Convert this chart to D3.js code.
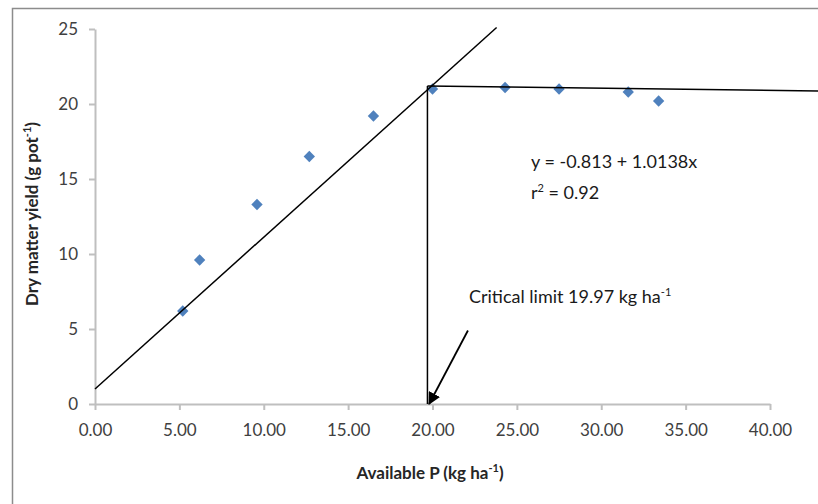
<!DOCTYPE html>
<html lang="en">
  <head>
    <meta charset="UTF-8" />
    <title>Dry matter yield vs available P</title>
    <script src="https://d3js.org/d3.v7.min.js"></script>
    <style>
      body { margin: 0; background: #fff; }
      svg text { font-family: Lato, "Open Sans", sans-serif; }
    </style>
  </head>
  <body>
    <svg></svg>
    <script>
      // data
      let availP = [5.2, 6.2, 9.6, 12.7, 16.5, 20.0, 24.3, 27.5, 31.6, 33.4];
      let yieldG = [6.2, 9.6, 13.3, 16.5, 19.2, 21.0, 21.1, 21.0, 20.8, 20.2];
      let xTicks = [0, 5, 10, 15, 20, 25, 30, 35, 40];
      let yTicks = [0, 5, 10, 15, 20, 25];
      // fitted lines (start/end points)
      let riseLine = [[0, 1.0], [23.8, 25.1]];
      let plateauLine = [[19.7, 21.2], [43, 20.87]];
      let criticalX = 19.7;
      let arrowFrom = [22.1, 4.9];

      let width = 818,
        height = 504;

      let svg = d3.select("svg").attr("width", width).attr("height", height);

      // chart area frame
      svg
        .append("rect")
        .attr("x", 12.5)
        .attr("y", 8.5)
        .attr("width", 830)
        .attr("height", 520)
        .attr("fill", "#fff")
        .attr("stroke", "#8c8c8c")
        .attr("stroke-width", 1.5);

      let x = d3.scaleLinear().domain([0, 40]).range([95, 770]);
      let y = d3.scaleLinear().domain([0, 25]).range([404, 29]);

      // axes
      let xAxis = svg
        .append("g")
        .attr("transform", "translate(0,404)")
        .call(
          d3
            .axisBottom(x)
            .tickValues(xTicks)
            .tickSize(6)
            .tickSizeOuter(0)
            .tickPadding(14)
            .tickFormat(d3.format(".2f"))
        );
      let yAxis = svg
        .append("g")
        .attr("transform", "translate(95,0)")
        .call(
          d3
            .axisLeft(y)
            .tickValues(yTicks)
            .tickSize(6)
            .tickSizeOuter(0)
            .tickPadding(11)
        );
      [xAxis, yAxis].forEach((a) => {
        a.select(".domain").attr("stroke", "#bfbfbf").attr("stroke-width", 2);
        a.selectAll(".tick line").attr("stroke", "#bfbfbf").attr("stroke-width", 2);
        a.selectAll(".tick text")
          .attr("fill", "#404040")
          .style("font-size", "17px");
      });

      // axis titles
      let xt = svg
        .append("text")
        .attr("x", 430)
        .attr("y", 479)
        .attr("text-anchor", "middle")
        .style("font-size", "17px")
        .style("font-weight", "bold")
        .attr("fill", "#262626");
      xt.append("tspan").text("Available P (kg ha");
      xt.append("tspan").attr("dy", -7).style("font-size", "11px").text("-1");
      xt.append("tspan").attr("dy", 7).text(")");

      let yt = svg
        .append("text")
        .attr("transform", "translate(38,214) rotate(-90)")
        .attr("text-anchor", "middle")
        .style("font-size", "17px")
        .style("font-weight", "bold")
        .attr("fill", "#262626");
      yt.append("tspan").text("Dry matter yield (g pot");
      yt.append("tspan").attr("dy", -7).style("font-size", "11px").text("-1");
      yt.append("tspan").attr("dy", 7).text(")");

      // points
      let pts = availP.map((d, i) => ({ p: d, v: yieldG[i] }));
      svg
        .append("g")
        .selectAll("path")
        .data(pts)
        .enter()
        .append("path")
        .attr("d", d3.symbol().type(d3.symbolSquare).size(64))
        .attr("transform", (d) => "translate(" + x(d.p) + "," + y(d.v) + ") rotate(45)")
        .attr("fill", "#4f81bd");

      // lines
      let line = d3
        .line()
        .x((d) => x(d[0]))
        .y((d) => y(d[1]));
      svg
        .append("path")
        .attr("d", line(riseLine))
        .attr("fill", "none")
        .attr("stroke", "#000")
        .attr("stroke-width", 1.5);
      svg
        .append("path")
        .attr("d", line(plateauLine))
        .attr("fill", "none")
        .attr("stroke", "#000")
        .attr("stroke-width", 1.5);
      svg
        .append("path")
        .attr("d", line([[criticalX, plateauLine[0][1]], [criticalX, 0]]))
        .attr("fill", "none")
        .attr("stroke", "#000")
        .attr("stroke-width", 1.5);

      // arrow
      svg
        .append("defs")
        .append("marker")
        .attr("id", "arrow")
        .attr("viewBox", "0 0 10 10")
        .attr("refX", 9)
        .attr("refY", 5)
        .attr("markerWidth", 7)
        .attr("markerHeight", 7)
        .attr("markerUnits", "strokeWidth")
        .attr("orient", "auto")
        .append("path")
        .attr("d", "M0,0L10,5L0,10Z")
        .attr("fill", "#000");
      svg
        .append("path")
        .attr("d", line([arrowFrom, [criticalX + 0.1, 0]]))
        .attr("stroke", "#000")
        .attr("stroke-width", 1.8)
        .attr("marker-end", "url(#arrow)");

      // annotations
      let ann = svg.append("g").attr("fill", "#1a1a1a").style("font-size", "18px");
      ann.append("text").attr("x", 531).attr("y", 168).text("y = -0.813 + 1.0138x");
      let r2 = ann.append("text").attr("x", 531).attr("y", 199);
      r2.append("tspan").text("r");
      r2.append("tspan").attr("dy", -7).style("font-size", "11px").text("2");
      r2.append("tspan").attr("dy", 7).text(" = 0.92");
      let cl = ann.append("text").attr("x", 469).attr("y", 303);
      cl.append("tspan").text("Critical limit 19.97 kg ha");
      cl.append("tspan").attr("dy", -7).style("font-size", "11px").text("-1");
    </script>
  </body>
</html>
